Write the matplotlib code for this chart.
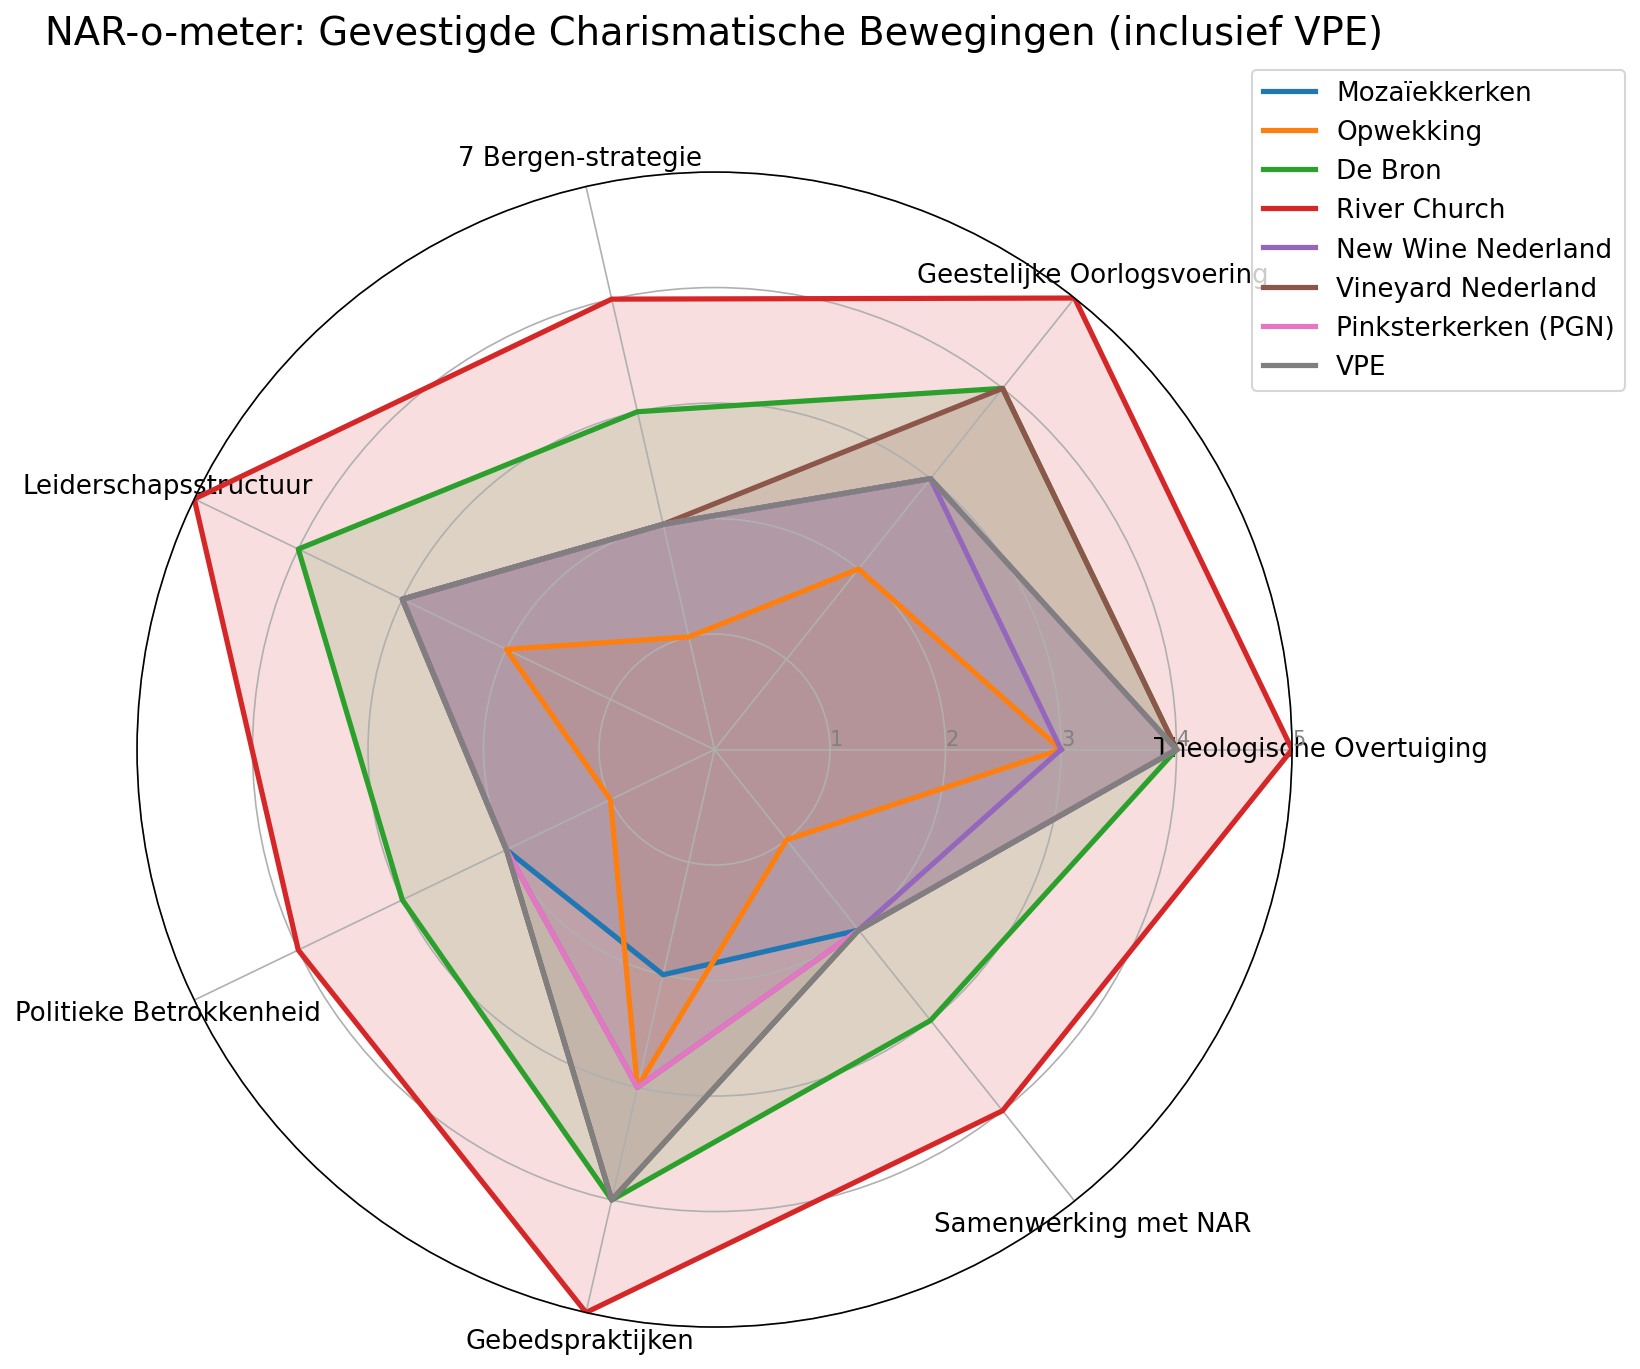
import matplotlib
matplotlib.use("Agg")
import matplotlib.pyplot as plt
import numpy as np

# categories (going counter-clockwise from the right)
categories = [
    "Theologische Overtuiging",
    "Geestelijke Oorlogsvoering",
    "7 Bergen-strategie",
    "Leiderschapsstructuur",
    "Politieke Betrokkenheid",
    "Gebedspraktijken",
    "Samenwerking met NAR",
]

# scores per movement (0-5)
mozaiekkerken = [4, 3, 2, 3, 2, 2, 2]
opwekking = [3, 2, 1, 2, 1, 3, 1]
de_bron = [4, 4, 3, 4, 3, 4, 3]
river_church = [5, 5, 4, 5, 4, 5, 4]
new_wine = [3, 3, 2, 3, 2, 3, 2]
vineyard = [4, 4, 2, 3, 2, 4, 2]
pinksterkerken = [4, 3, 2, 3, 2, 3, 2]
vpe = [4, 3, 2, 3, 2, 4, 2]

names = ["Mozaïekkerken", "Opwekking", "De Bron", "River Church",
         "New Wine Nederland", "Vineyard Nederland", "Pinksterkerken (PGN)", "VPE"]
series = [mozaiekkerken, opwekking, de_bron, river_church,
          new_wine, vineyard, pinksterkerken, vpe]

n = len(categories)
angles = np.linspace(0, 2 * np.pi, n, endpoint=False).tolist()
angles += angles[:1]

fig, ax = plt.subplots(figsize=(12, 10), subplot_kw=dict(polar=True))

for name, vals in zip(names, series):
    v = vals + vals[:1]
    ax.plot(angles, v, linewidth=2.5, label=name)
    ax.fill(angles, v, alpha=0.15)

ax.set_xticks(angles[:-1])
ax.set_xticklabels(categories, fontsize=12.5)
ax.set_rlabel_position(0)
ax.set_yticks([1, 2, 3, 4, 5])
ax.set_yticklabels(["1", "2", "3", "4", "5"], color="grey", size=10)
ax.set_ylim(0, 5)

plt.title("NAR-o-meter: Gevestigde Charismatische Bewegingen (inclusief VPE)",
          size=18.5, y=1.1)
plt.legend(loc="upper right", bbox_to_anchor=(1.3, 1.1), fontsize=12.6)

plt.savefig("out.png", dpi=150, bbox_inches="tight")
